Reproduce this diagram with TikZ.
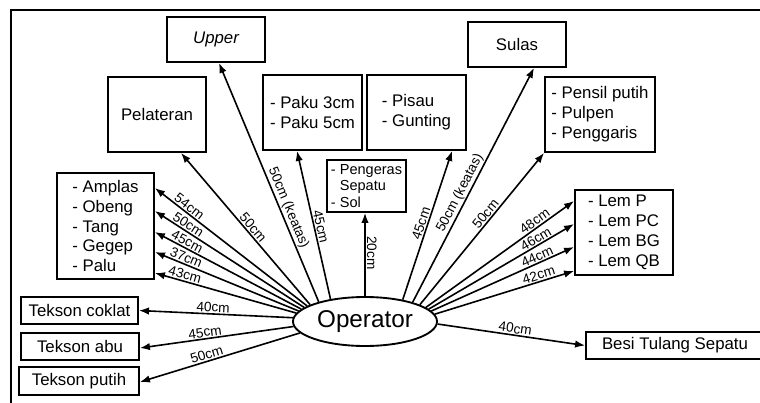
\documentclass[tikz,border=0pt]{standalone}
\usepackage{fontspec}
\setmainfont{Liberation Sans}
\usetikzlibrary{arrows.meta,calc,shapes.geometric}
\begin{document}
\begin{tikzpicture}[x=0.75pt,y=-0.75pt,
  box/.style={draw,line width=1.4pt,inner sep=2pt,align=center,font=\fontsize{12.6}{14.9}\selectfont},
  wh/.style 2 args={minimum width=#1*0.75pt,minimum height=#2*0.75pt},
  arr/.style={{Latex[length=7.5pt,width=5.6pt]}-,line width=1.2pt},
  lbl/.style={sloped,above,inner sep=0.8pt,font=\fontsize{10.2}{11}\selectfont},
]
\useasboundingbox (0,0) rectangle (760,403);
\draw[line width=1.2pt] (760,10) -- (11,10) -- (11,403);

\node[box,wh={98}{45}] (upper) at (216,39.5) {\itshape Upper};
\node[box,wh={98}{75}] (pel) at (157,114.5) {Pelateran};
\node[box,wh={99}{75},align=left] (paku) at (312.5,112.5) {- Paku 3cm\\- Paku 5cm};
\node[box,wh={99}{75},align=left] (pisau) at (416.5,112.5) {- Pisau\\- Gunting};
\node[box,wh={98}{45}] (sulas) at (517,44.5) {Sulas};
\node[box,wh={110}{75},align=left] (pensil) at (600,114.5) {- Pensil putih\\- Pulpen\\- Penggaris};
\node[box,wh={79}{52},align=left,font=\fontsize{10.9}{12.2}\selectfont] (peng) at (366.5,186) {- Pengeras\\\phantom{- }Sepatu\\- Sol};
\node[box,wh={97}{106},align=left] (amp) at (105.5,226) {- Amplas\\- Obeng\\- Tang\\- Gegep\\- Palu};
\node[box,wh={117}{27}] (coklat) at (79.5,310.5) {Tekson coklat};
\node[box,wh={118}{27}] (abu) at (80,346.5) {Tekson abu};
\node[box,wh={120}{28}] (putih) at (79,381) {Tekson putih};
\node[draw,ellipse,line width=1.4pt,wh={144}{49},inner sep=0pt,font=\fontsize{18.2}{20}\selectfont] (op) at (365,321.5) {Operator};
\node[box,wh={98}{85},align=left] (lem) at (624,232.5) {- Lem P\\- Lem PC\\- Lem BG\\- Lem QB};
\node[box,wh={178}{27}] (besi) at (675,345.5) {Besi Tulang Sepatu};

\draw[arr] ($(upper.south)+(3,0)$) -- node[lbl,pos=.62]{50cm (keatas)} (op.157);
\draw[arr] ($(pel.south)+(24,0)$) -- node[lbl,pos=.52]{50cm} (op.163);
\draw[arr] ($(paku.south)+(-15.5,0)$) -- node[lbl,pos=.52]{45cm} (op.147);
\draw[arr] ($(peng.south)+(-1.5,0)$) -- node[lbl,pos=.48]{20cm} (op.90);
\draw[arr] ($(pisau.south)+(35.5,0)$) -- node[lbl,pos=.5]{45cm} (op.30);
\draw[arr] ($(sulas.south)+(17,0)$) -- node[lbl,pos=.55]{50cm (keatas)} (op.22);
\draw[arr] (pensil.south west) -- node[lbl,pos=.43]{50cm} (op.17);

\draw[arr] ($(lem.west)+(0,-31.5)$) -- node[lbl,pos=.24]{48cm} (op.13);
\draw[arr] ($(lem.west)+(0,-8.5)$) -- node[lbl,pos=.24]{46cm} (op.11);
\draw[arr] ($(lem.west)+(0,14.5)$) -- node[lbl,pos=.24]{44cm} (op.9);
\draw[arr] ($(lem.west)+(0,38.5)$) -- node[lbl,pos=.24]{42cm} (op.6);
\draw[arr] (besi.west) -- node[lbl,pos=.48]{40cm} (op.-2);

\draw[arr] ($(amp.east)+(0,-38)$) -- node[lbl,pos=.2]{54cm} (op.165);
\draw[arr] ($(amp.east)+(0,-15)$) -- node[lbl,pos=.2]{50cm} (op.167);
\draw[arr] ($(amp.east)+(0,6)$) -- node[lbl,pos=.2]{45cm} (op.169);
\draw[arr] ($(amp.east)+(0,26)$) -- node[lbl,pos=.2]{37cm} (op.171);
\draw[arr] ($(amp.east)+(0,47)$) -- node[lbl,pos=.2]{43cm} (op.173);
\draw[arr] (coklat.east) -- node[lbl,pos=.48]{40cm} (op.177);
\draw[arr] ($(abu.east)+(0,1.5)$) -- node[lbl,pos=.43]{45cm} (op.184);
\draw[arr] ($(putih.east)+(0,1)$) -- node[lbl,pos=.43]{50cm} (op.190);
\end{tikzpicture}
\end{document}
